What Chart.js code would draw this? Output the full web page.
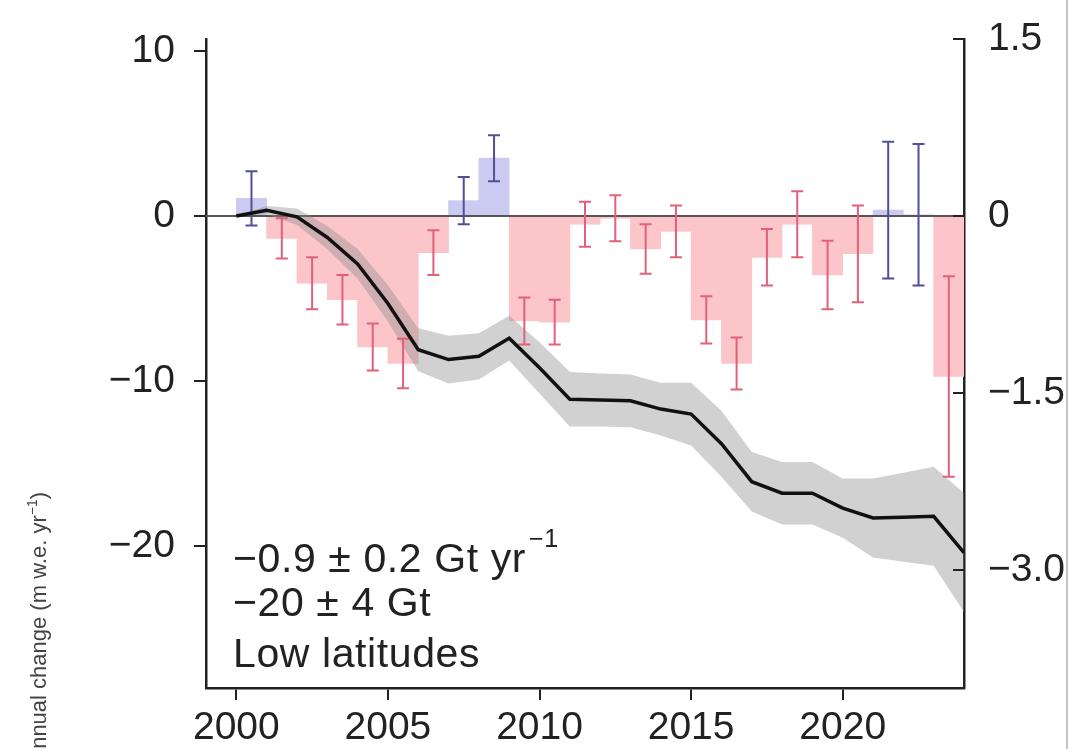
<!DOCTYPE html>
<html><head><meta charset="utf-8">
<script src="https://cdn.jsdelivr.net/npm/chart.js@4/dist/chart.umd.min.js"></script>
<style>html,body{margin:0;padding:0;background:#fff;}canvas{display:block;}</style>
</head><body>
<canvas id="c" width="1073" height="749"></canvas>
<script>
// ---- data ----
const barYears = [2000,2001,2002,2003,2004,2005,2006,2007,2008,2009,2010,2011,2012,2013,2014,2015,2016,2017,2018,2019,2020,2021,2022,2023];
const annualChange = [0.15,-0.19,-0.57,-0.71,-1.11,-1.25,-0.31,0.13,0.49,-0.89,-0.90,-0.07,-0.02,-0.28,-0.13,-0.88,-1.25,-0.35,-0.07,-0.50,-0.32,0.05,0.01,-1.36]; // m w.e. yr-1
const annualError = [0.23,0.17,0.22,0.21,0.20,0.21,0.19,0.20,0.195,0.20,0.19,0.19,0.195,0.21,0.22,0.20,0.22,0.24,0.28,0.29,0.41,0.58,0.60,0.85];
const cumYears = [2000,2001,2002,2003,2004,2005,2006,2007,2008,2009,2010,2011,2012,2013,2014,2015,2016,2017,2018,2019,2020,2021,2022,2023,2024];
const cumulativeGt = [0,0.35,-0.05,-1.3,-2.9,-5.3,-8.1,-8.7,-8.5,-7.4,-9.2,-11.1,-11.15,-11.2,-11.7,-12.0,-13.8,-16.1,-16.8,-16.8,-17.7,-18.3,-18.25,-18.2,-20.4];
const cumulativeErr = [0,0.25,0.5,0.7,0.9,1.1,1.3,1.45,1.4,1.35,1.55,1.65,1.6,1.6,1.6,1.9,2.0,1.8,1.9,1.9,1.8,2.4,2.7,3.0,3.6];
const xTicks = [2000,2005,2010,2015,2020];
const xTickLabels = ['2000','2005','2010','2015','2020'];
const leftTicks = [10,0,-10,-20];
const leftTickLabels = ['10','0','\u221210','\u221220'];
const rightTicks = [1.5,0,-1.5,-3.0];
const rightTickLabels = ['1.5','0','\u22121.5','\u22123.0'];
const noteLines = ['\u22120.9 \u00b1 0.2 Gt yr','\u221220 \u00b1 4 Gt','Low latitudes'];
const noteSup = '\u22121';
const yTitleMain = 'Annual change (m w.e. yr';
const yTitleSup = '\u22121';
const yTitleEnd = ')';

const FONT = "'Liberation Sans', Arial, Helvetica, sans-serif";
const TXT = '#222';
const PINK = '#fbc5ca', BLUE = '#cbcbf1';
const ERR_RED = '#e3607a', ERR_BLUE = '#50509a';

const decor = {
  id: 'decor',
  afterDatasetDraw(chart, args) {
    const {ctx, chartArea} = chart;
    const yR = chart.scales.y1, xS = chart.scales.x;
    if (args.index === 0) {
      const y0 = yR.getPixelForValue(0);
      ctx.save();
      ctx.strokeStyle = '#555'; ctx.lineWidth = 2;
      ctx.beginPath(); ctx.moveTo(chartArea.left, y0); ctx.lineTo(chartArea.right, y0); ctx.stroke();
      ctx.restore();
    }
    if (args.index === 2) {
      ctx.save();
      ctx.lineWidth = 2;
      barYears.forEach((yr, i) => {
        const v = annualChange[i], e = annualError[i];
        const x = xS.getPixelForValue(yr + 0.5);
        const a = yR.getPixelForValue(v + e), b = yR.getPixelForValue(v - e);
        ctx.strokeStyle = v >= 0 ? ERR_BLUE : ERR_RED;
        ctx.beginPath();
        ctx.moveTo(x, a); ctx.lineTo(x, b);
        ctx.moveTo(x - 6, a); ctx.lineTo(x + 6, a);
        ctx.moveTo(x - 6, b); ctx.lineTo(x + 6, b);
        ctx.stroke();
      });
      ctx.restore();
    }
  },
  afterDraw(chart) {
    const {ctx, chartArea} = chart;
    const yR = chart.scales.y1;
    ctx.save();
    // inward ticks on right axis
    ctx.strokeStyle = TXT; ctx.lineWidth = 2;
    rightTicks.forEach(v => {
      const y = yR.getPixelForValue(v);
      ctx.beginPath(); ctx.moveTo(chartArea.right - 11, y); ctx.lineTo(chartArea.right, y); ctx.stroke();
    });
    // note text
    ctx.fillStyle = TXT; ctx.textAlign = 'left'; ctx.textBaseline = 'alphabetic';
    ctx.font = '41px ' + FONT;
    if ('letterSpacing' in ctx) ctx.letterSpacing = '0.6px';
    const bases = [572, 616, 667];
    noteLines.forEach((t, i) => ctx.fillText(t, 233, bases[i]));
    const w0 = ctx.measureText(noteLines[0]).width;
    ctx.font = '25px ' + FONT;
    ctx.fillText(noteSup, 233 + w0 + 3, 547);
    if ('letterSpacing' in ctx) ctx.letterSpacing = '0px';
    // rotated y title (partially outside the picture)
    ctx.translate(46, 492);
    ctx.rotate(-Math.PI / 2);
    ctx.fillStyle = '#444';
    ctx.font = '22px ' + FONT;
    const wm = ctx.measureText(yTitleMain).width;
    const we = ctx.measureText(yTitleEnd).width;
    ctx.font = '14px ' + FONT;
    const ws = ctx.measureText(yTitleSup).width;
    const total = wm + ws + we;
    ctx.font = '22px ' + FONT;
    ctx.fillText(yTitleMain, -total, 0);
    ctx.fillText(yTitleEnd, -we, 0);
    ctx.font = '14px ' + FONT;
    ctx.fillText(yTitleSup, -total + wm, -9);
    ctx.restore();
    // right border of picture
    ctx.save();
    ctx.strokeStyle = '#c4c4c4'; ctx.lineWidth = 2;
    ctx.beginPath(); ctx.moveTo(1067, 0); ctx.lineTo(1067, 749); ctx.stroke();
    ctx.restore();
  }
};

const noPad = s => { s.paddingTop = 0; s.paddingBottom = 0; s.paddingLeft = 0; s.paddingRight = 0; };

new Chart(document.getElementById('c').getContext('2d'), {
  type: 'line',
  data: {
    datasets: [
      { type: 'bar', yAxisID: 'y1', order: 5,
        data: barYears.map((yr, i) => ({x: yr + 0.5, y: annualChange[i]})),
        backgroundColor: annualChange.map(v => v >= 0 ? BLUE : PINK),
        borderWidth: 0, barPercentage: 1, categoryPercentage: 1 },
      { yAxisID: 'y', order: 4, fill: false, tension: 0,
        data: cumYears.map((yr, i) => ({x: yr, y: cumulativeGt[i] - cumulativeErr[i]})),
        borderWidth: 0, borderColor: 'rgba(0,0,0,0)', pointRadius: 0 },
      { yAxisID: 'y', order: 3, fill: '-1', tension: 0,
        data: cumYears.map((yr, i) => ({x: yr, y: cumulativeGt[i] + cumulativeErr[i]})),
        backgroundColor: 'rgba(140,140,140,0.40)',
        borderWidth: 0, borderColor: 'rgba(0,0,0,0)', pointRadius: 0 },
      { yAxisID: 'y', order: 1, fill: false, tension: 0,
        data: cumYears.map((yr, i) => ({x: yr, y: cumulativeGt[i]})),
        borderColor: '#111', borderWidth: 3.5, pointRadius: 0, borderJoinStyle: 'miter' }
    ]
  },
  options: {
    responsive: false, animation: false, devicePixelRatio: 1,
    layout: {padding: {top: 39, left: 0, right: 0, bottom: 0}},
    plugins: {legend: {display: false}, tooltip: {enabled: false}},
    scales: {
      x: {
        type: 'linear', min: 1999, max: 2024, offset: false,
        afterBuildTicks: s => { s.ticks = xTicks.map(v => ({value: v})); },
        afterFit: s => { s.height = 61; noPad(s); },
        grid: {drawOnChartArea: false, drawTicks: true, tickLength: 12, color: TXT, lineWidth: 2, offset: false},
        border: {display: true, color: TXT, width: 2.5},
        ticks: {font: {family: FONT, size: 39}, color: TXT, padding: 5, maxRotation: 0, autoSkip: false,
          callback: (v) => xTickLabels[xTicks.indexOf(v)] }
      },
      y: {
        position: 'left', min: -28.6, max: 10.725,
        afterBuildTicks: s => { s.ticks = leftTicks.map(v => ({value: v})); },
        afterFit: s => { s.width = 206; noPad(s); },
        grid: {drawOnChartArea: false, drawTicks: true, tickLength: 12, color: TXT, lineWidth: 2},
        border: {display: true, color: TXT, width: 2.5},
        ticks: {font: {family: FONT, size: 39}, color: TXT, padding: 19, autoSkip: false,
          callback: (v) => leftTickLabels[leftTicks.indexOf(v)] }
      },
      y1: {
        position: 'right', min: -4, max: 1.5,
        afterBuildTicks: s => { s.ticks = rightTicks.map(v => ({value: v})); },
        afterFit: s => { s.width = 109; noPad(s); },
        grid: {drawOnChartArea: false, drawTicks: false, color: TXT, lineWidth: 2},
        border: {display: true, color: TXT, width: 2.5},
        ticks: {font: {family: FONT, size: 39}, color: TXT, padding: 24, autoSkip: false,
          callback: (v) => rightTickLabels[rightTicks.indexOf(v)] }
      }
    }
  },
  plugins: [decor]
});
</script>
</body></html>
